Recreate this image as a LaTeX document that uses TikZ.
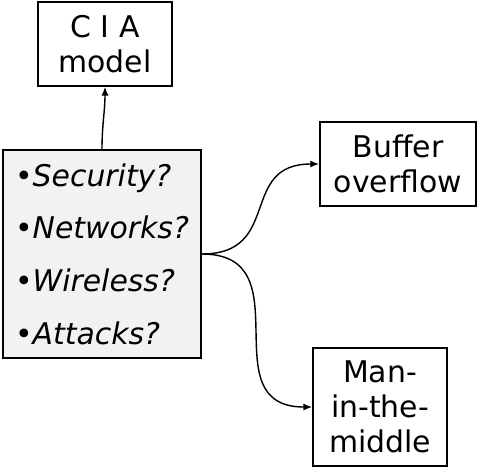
\documentclass[tikz,border=0pt]{standalone}
\usepackage{fontspec}
\setmainfont{DejaVu Sans}
\usepackage{tikz}
\usetikzlibrary{arrows.meta}

\begin{document}
\begin{tikzpicture}[
  topicbox/.style={draw, line width=1pt, align=center, inner xsep=0.28cm, inner ysep=0.26cm,
    minimum width=2.68cm, font=\fontsize{17}{20}\selectfont},
  questions/.style={draw, line width=1pt, fill=gray!10, align=left,
    minimum width=3.96cm, minimum height=4.16cm, font=\fontsize{17}{30}\selectfont},
  link/.style={line width=0.8pt, -{Latex[length=5pt,width=4pt]}}]
  \useasboundingbox (0,0) rectangle (9.54,-9.38);
  \draw (2.04,-5.08) node[questions] (topics) {•\textit{Security?}\\ •\textit{Networks?}\\ •\textit{Wireless?}\\ •\textit{Attacks?}};
  \draw (2.10,-0.88) node[topicbox] (cia) {C I A\\ model};
    \draw (7.96,-3.28) node[topicbox] (buffer) {Buffer\\ overflow};
    \draw (7.60,-8.14) node[topicbox] (mitm) {Man-\\ in-the-\\ middle};

       \path[link] (topics.north) edge[out=90,in=-90] (cia.south);
       \path[link] (topics.east) edge[out=0,in=180,looseness=1.4] (buffer.west);
       \path[link] (topics.east) edge[out=0,in=180,looseness=1.4] (mitm.west);

\end{tikzpicture}
\end{document}
